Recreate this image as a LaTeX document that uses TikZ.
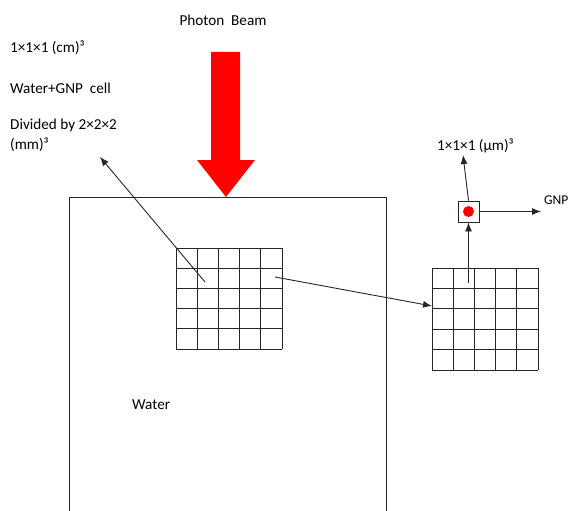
\documentclass[tikz,border=0pt]{standalone}
\usepackage{fontspec}
\setmainfont{Carlito}
\usetikzlibrary{arrows.meta,positioning}

\begin{document}
\begin{tikzpicture}[x=1pt,y=-1pt,>=Latex,font=\fontsize{15.2}{18}\selectfont,
  conn/.style={draw=black!85,line width=0.9pt,-{Latex[length=9pt,width=7pt]}},
  cellline/.style={draw=black!85,line width=1pt},
  lbl/.style={anchor=west,inner sep=0pt}]
\useasboundingbox (0,0) rectangle (570,511);
% water tank, open at the bottom
\draw[black!85,line width=0.9pt] (69,511) -- (69,197) -- (386,197) -- (386,511);
\node[lbl] (water) at (132,405) {Water};
% beam
\node (beam) at (223,20) {Photon\ \ Beam};
\fill[red] (211,52) -- (240,52) -- (240,160) -- (255,160) -- (226,197) -- (197,160) -- (211,160) -- cycle;
% labels on the left
\node[lbl] (size) at (10,48) {1×1×1 (cm)³};
\node[lbl] (cell) at (10,88) {Water+GNP\ \ cell};
\node[lbl] (div) at (10,125) {Divided by 2×2×2};
\node[lbl] (divb) at (10,145) {(mm)³};
% 5x5 cells in the tank
\node[inner sep=0pt,minimum width=106pt,minimum height=101pt] (cellL) at (229,298.5) {};
\foreach \k in {0,...,5} {
  \draw[cellline] (176+21.2*\k,248) -- (176+21.2*\k,349);
  \draw[cellline] (176,248+20.2*\k) -- (282,248+20.2*\k);
}
% enlarged cells
\node[inner sep=0pt,minimum width=106pt,minimum height=102pt] (cellR) at (485,319) {};
\foreach \k in {0,...,5} {
  \draw[cellline] (432+21.2*\k,268) -- (432+21.2*\k,370);
  \draw[cellline] (432,268+20.4*\k) -- (538,268+20.4*\k);
}
% one micro cell with a GNP
\node[draw=black!85,line width=0.9pt,minimum size=21pt,inner sep=0pt] (micro) at (468.5,211.5) {};
\fill[red] (micro.center) circle (5.5);
\node[lbl] (microsize) at (437,146) {1×1×1 (μm)³};
\node[lbl,font=\fontsize{13.5}{16}\selectfont] (gnp) at (544,200) {GNP};
% connectors
\coordinate (fromL) at (205,282);
\coordinate (toText) at (100,157);
\coordinate (fromM) at (275,277);
\coordinate (toR) at (432,306);
\coordinate (fromR) at (468.5,283);
\coordinate (toSize) at (463,155);
\coordinate (toGnp) at (541,211.5);
\draw[conn] (fromL) -- (toText);
\draw[conn] (fromM) -- (toR);
\draw[conn] (fromR) -- (micro.south);
\draw[conn] (micro.north) -- (toSize);
\draw[conn] (micro.east) -- (toGnp);
\end{tikzpicture}
\end{document}
